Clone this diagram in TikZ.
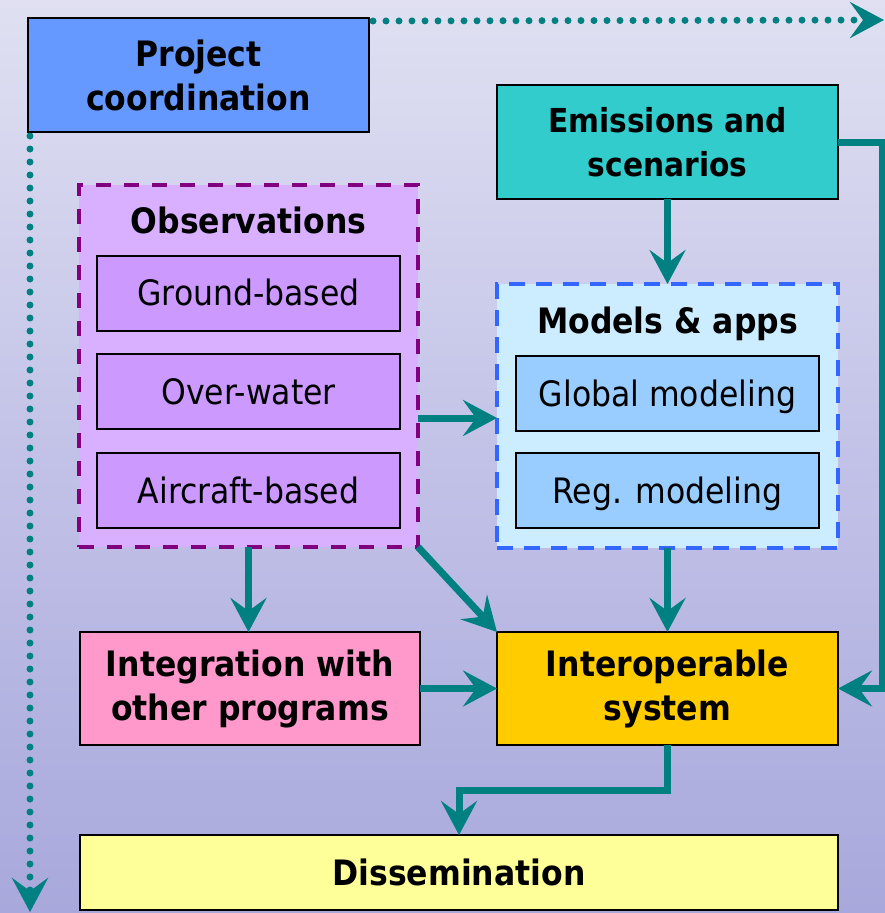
\documentclass[tikz,border=0pt]{standalone}
\usepackage{fontspec}
\setmainfont{DejaVu Sans Condensed}
\usetikzlibrary{arrows.meta}
\definecolor{bgtop}{RGB}{224,224,242}
\definecolor{bgmid}{RGB}{194,194,232}
\definecolor{bgbot}{RGB}{168,168,220}
\definecolor{projblue}{RGB}{102,153,255}
\definecolor{emisteal}{RGB}{51,204,204}
\definecolor{obsfill}{RGB}{216,176,255}
\definecolor{obsinner}{RGB}{204,153,255}
\definecolor{obsborder}{RGB}{128,0,128}
\definecolor{modfill}{RGB}{204,236,255}
\definecolor{modinner}{RGB}{153,204,255}
\definecolor{modborder}{RGB}{51,102,255}
\definecolor{interyellow}{RGB}{255,204,0}
\definecolor{integpink}{RGB}{255,153,204}
\definecolor{disspale}{RGB}{255,255,153}
\definecolor{flowteal}{RGB}{0,128,128}
\begin{document}
\begin{tikzpicture}[x=1pt,y=-1pt,
  box/.style={draw=black, line width=2pt, inner sep=0pt, outer sep=0pt,
    align=center, font=\bfseries\fontsize{35}{44}\selectfont},
  subbox/.style={box, font=\fontsize{35}{44}\selectfont,
    minimum width=303pt, minimum height=75pt, text height=25.5pt, text depth=0pt},
  group/.style={line width=4pt, inner sep=0pt, outer sep=0pt},
  grouptitle/.style={font=\bfseries\fontsize{35}{44}\selectfont,
    inner sep=0pt, text height=25.5pt, text depth=0pt},
  conn/.style={draw=flowteal, line width=7pt,
    -{Stealth[length=34pt,width=36pt,inset=13pt]}},
  dotconn/.style={conn, dash pattern=on 0pt off 13pt, line cap=round}]
\useasboundingbox (0,0) rectangle (885,913);
\shade[top color=bgtop, bottom color=bgbot, middle color=bgmid] (0,0) rectangle (885,913);

% free ends of the coordination lines and the right-hand rail
\coordinate (topend) at (884,20);
\coordinate (botend) at (30,912);
\coordinate (rail) at (882,0);

% project coordination
\node[box, fill=projblue, minimum width=341pt, minimum height=114pt] (proj) at (198.5,75) {Project\\coordination};

% emissions
\node[box, fill=emisteal, minimum width=341pt, minimum height=114pt,
  font=\bfseries\fontsize{33}{44}\selectfont] (emis) at (667.5,142) {Emissions and\\scenarios};

% observations group
\node[group, draw=obsborder, fill=obsfill, dash pattern=on 15pt off 13pt,
  minimum width=339pt, minimum height=362pt] (obs) at (248.5,366) {};
\node[grouptitle] (obstitle) at (248.5,221) {Observations};
\node[subbox, fill=obsinner] (ground) at (248.5,293) {Ground-based};
\node[subbox, fill=obsinner] (over) at (248.5,391.5) {Over-water};
\node[subbox, fill=obsinner] (air) at (248.5,490.5) {Aircraft-based};

% models group
\node[group, draw=modborder, fill=modfill, dash pattern=on 16pt off 11pt,
  minimum width=341pt, minimum height=264pt] (models) at (667.5,416) {};
\node[grouptitle] (modtitle) at (667.5,321) {Models \& apps};
\node[subbox, fill=modinner] (global) at (667.5,393.5) {Global modeling};
\node[subbox, fill=modinner] (reg) at (667.5,490.5) {Reg. modeling};

% lower row
\node[box, fill=integpink, minimum width=340pt, minimum height=113pt] (integ) at (250,688.5) {Integration with\\other programs};
\node[box, fill=interyellow, minimum width=341pt, minimum height=113pt] (inter) at (667.5,688.5) {Interoperable\\system};
\node[box, fill=disspale, minimum width=758pt, minimum height=75pt, text height=25.5pt, text depth=0pt] (diss) at (459,872.5) {Dissemination};

% coordination lines
\draw[dotconn] ([yshift=-3pt,xshift=4pt]proj.north east) -- (topend);
\draw[dotconn] ([xshift=2pt,yshift=-4pt]proj.south west) -- (botend);

% flows
\draw[conn] (emis.south) -- (models.north);
\draw[conn] (emis.east) -- (emis.east -| rail) -- (inter.east -| rail) -- (inter.east);
\draw[conn] ([yshift=-52pt]obs.east) -- ([yshift=-52pt]obs.east -| models.west);
\draw[conn] (obs.south east) -- (inter.north west);
\draw[conn] (obs.south) -- (obs.south |- integ.north);
\draw[conn] (models.south) -- (inter.north);
\draw[conn] (integ.east) -- (inter.west);
\draw[conn] (inter.south) -- ++(0,45) -| (diss.north);
\end{tikzpicture}
\end{document}
